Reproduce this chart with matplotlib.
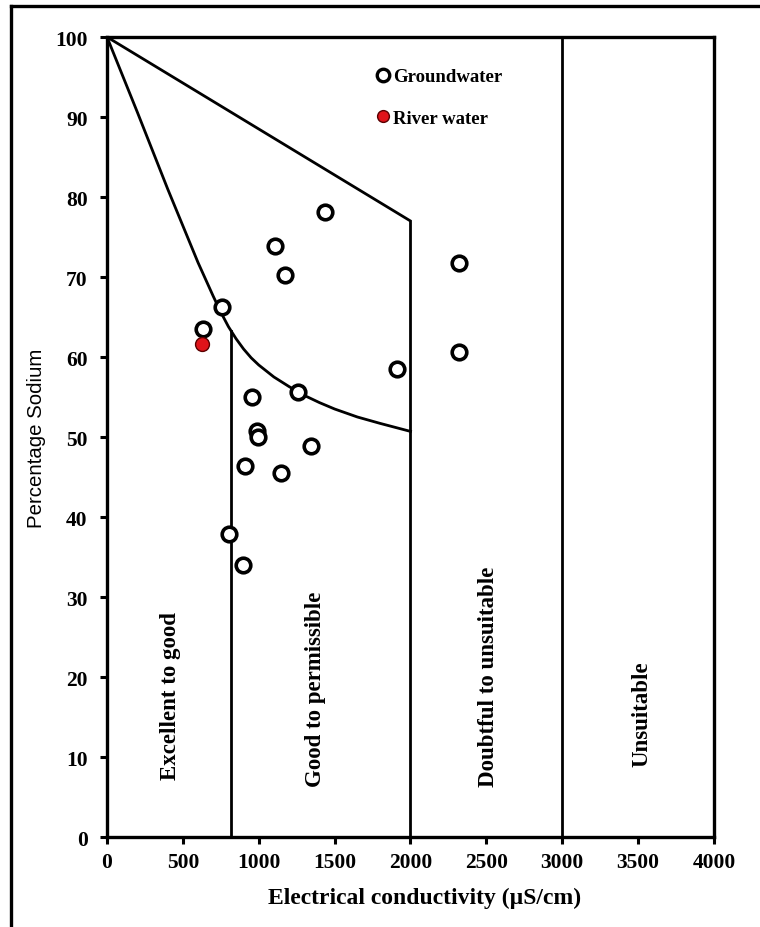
import matplotlib
matplotlib.use("Agg")
import matplotlib.pyplot as plt
from matplotlib.lines import Line2D

# Groundwater samples (EC in uS/cm, %Na)
gw_ec = [635, 756, 1107, 1437, 1173, 2320, 2320, 1909, 953, 1261,
         986, 997, 1344, 909, 1147, 804, 896]
gw_na = [63.5, 66.2, 73.9, 78.1, 70.2, 71.7, 60.6, 58.5, 55.0, 55.6,
         50.8, 50.0, 48.9, 46.4, 45.5, 37.9, 34.0]

# River water sample
rw_ec = [624]
rw_na = [61.6]

# Wilcox diagram boundaries
upper_ec = [0, 2000, 2000]
upper_na = [100, 77, 0]
curve_ec = [0, 200, 400, 600, 700, 750, 800, 850, 900, 950, 1000, 1100,
            1200, 1300, 1400, 1500, 1650, 1800, 2000]
curve_na = [100, 90.6, 81.0, 71.8, 67.6, 65.6, 63.8, 62.3, 61.0, 59.9, 59.0, 57.5,
            56.3, 55.2, 54.3, 53.5, 52.5, 51.7, 50.7]
good_ec = [820, 820]
good_na = [0, 63.2]
unsuit_ec = [3000, 3000]
unsuit_na = [0, 100]

zone_labels = ["Excellent to good", "Good to permissible",
               "Doubtful to unsuitable", "Unsuitable"]
zone_ec = [420, 1371, 2511, 3525]
zone_na = [17.8, 18.6, 20.2, 15.5]

x_ticks = [0, 500, 1000, 1500, 2000, 2500, 3000, 3500, 4000]
y_ticks = [0, 10, 20, 30, 40, 50, 60, 70, 80, 90, 100]

serif = "Liberation Serif"

fig = plt.figure(figsize=(7.6, 9.28), dpi=100)
ax = fig.add_axes([107 / 760, 1 - 838 / 928, 607 / 760, 800 / 928])

lw = 2.0
ax.plot(upper_ec, upper_na, color="black", lw=lw, solid_joinstyle="miter")
ax.plot(curve_ec, curve_na, color="black", lw=lw)
ax.plot(good_ec, good_na, color="black", lw=lw)
ax.plot(unsuit_ec, unsuit_na, color="black", lw=lw)

ax.plot(gw_ec, gw_na, "o", ms=10.5, mfc="white", mec="black", mew=2.6,
        ls="none", label="Groundwater", zorder=5)
ax.plot(rw_ec, rw_na, "o", ms=10, mfc="#e0141a", mec="#5a0000", mew=1.0,
        ls="none", label="River water", zorder=6)

for lab, xe, yn in zip(zone_labels, zone_ec, zone_na):
    ax.text(xe, yn, lab, rotation=90, ha="center", va="center",
            family=serif, fontweight="bold", fontsize=16.5)

ax.set_xlim(0, 4000)
ax.set_ylim(0, 100)
ax.set_xticks(x_ticks)
ax.set_yticks(y_ticks)
for lbl in ax.get_xticklabels() + ax.get_yticklabels():
    lbl.set_family(serif)
    lbl.set_fontweight("bold")
    lbl.set_fontsize(15.5)
ax.tick_params(direction="out", length=5, width=2.2)
ax.tick_params(axis="x", pad=6)
ax.tick_params(axis="y", pad=9)

for s in ax.spines.values():
    s.set_linewidth(2.4)

ax.set_xlabel("Electrical conductivity (\u00b5S/cm)", family=serif,
              fontweight="bold", fontsize=17)
ax.xaxis.set_label_coords(318 / 607, -50 / 800)
ax.set_ylabel("Percentage Sodium", family="Liberation Sans", fontsize=14.7)
ax.yaxis.set_label_coords(-61 / 607, 0.5)

handles = [
    Line2D([], [], marker="o", ls="none", ms=9, mfc="white", mec="black", mew=2.4),
    Line2D([], [], marker="o", ls="none", ms=8.5, mfc="#e0141a", mec="#5a0000", mew=1.0),
]
ax.legend(handles, ["Groundwater", "River water"], loc="upper left",
          bbox_to_anchor=(0.412, 0.982), frameon=False, handletextpad=0.0,
          handlelength=1.0, labelspacing=1.3,
          prop={"family": serif, "weight": "bold", "size": 13.5})

# outer border of the original figure
fig.add_artist(Line2D([11 / 760, 11 / 760], [0, 1 - 7 / 928],
                      transform=fig.transFigure, color="black", lw=2.4))
fig.add_artist(Line2D([11 / 760, 1], [1 - 7 / 928, 1 - 7 / 928],
                      transform=fig.transFigure, color="black", lw=2.4))

fig.savefig("out.png", dpi=100)
